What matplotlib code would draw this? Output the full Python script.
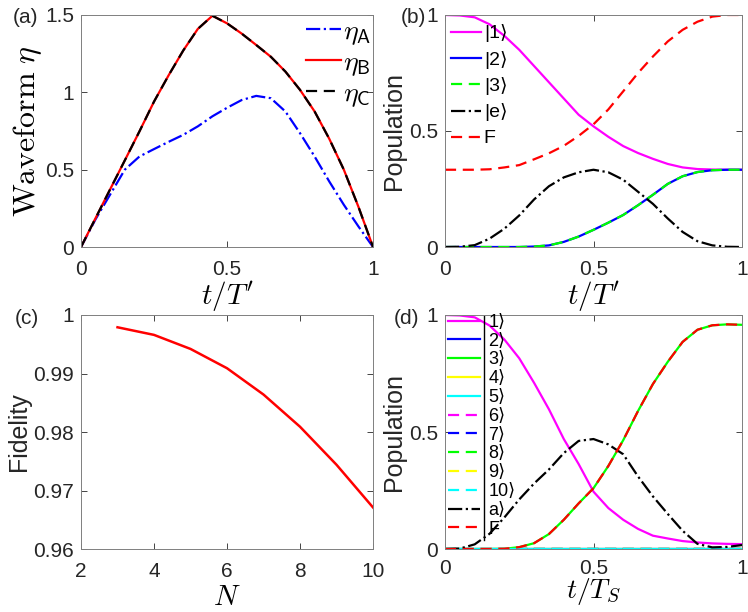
import numpy as np
import matplotlib
matplotlib.use("Agg")
import matplotlib.pyplot as plt
from matplotlib.ticker import FormatStrFormatter

plt.rcParams['font.family'] = ['Liberation Sans', 'DejaVu Sans']
plt.rcParams['mathtext.fontset'] = 'cm'

# ---- data ----
t = [0.0, 0.05, 0.1, 0.15, 0.2, 0.25, 0.3, 0.35, 0.4, 0.45, 0.5,
     0.55, 0.6, 0.65, 0.7, 0.75, 0.8, 0.85, 0.9, 0.95, 1.0]

# (a) waveforms
eta_A = [0.0, 0.18, 0.34, 0.50, 0.585, 0.633, 0.68, 0.725, 0.78, 0.845, 0.90,
         0.95, 0.977, 0.962, 0.876, 0.736, 0.585, 0.424, 0.273, 0.133, 0.0]
eta_B = [0.0, 0.187, 0.374, 0.56, 0.747, 0.94, 1.11, 1.27, 1.41, 1.495, 1.446,
         1.38, 1.306, 1.23, 1.134, 1.016, 0.876, 0.70, 0.50, 0.26, 0.0]
eta_C = eta_B

# (b) populations, N=3
pb_1 = [1.0, 0.998, 0.99, 0.96, 0.91, 0.85, 0.78, 0.71, 0.64, 0.57, 0.52,
        0.475, 0.435, 0.405, 0.38, 0.358, 0.343, 0.336, 0.334, 0.333, 0.333]
pb_2 = [0.0, 0.0, 0.0, 0.0, 0.0, 0.0, 0.002, 0.007, 0.022, 0.045, 0.074,
        0.105, 0.138, 0.18, 0.225, 0.272, 0.305, 0.323, 0.331, 0.333, 0.333]
pb_3 = pb_2
pb_e = [0.0, 0.001, 0.008, 0.036, 0.079, 0.136, 0.205, 0.262, 0.30, 0.322, 0.333,
        0.322, 0.29, 0.238, 0.186, 0.123, 0.065, 0.025, 0.007, 0.001, 0.0]
pb_F = [0.333, 0.333, 0.333, 0.335, 0.343, 0.353, 0.378, 0.404, 0.436, 0.479, 0.529,
        0.593, 0.671, 0.75, 0.821, 0.886, 0.936, 0.971, 0.993, 1.0, 1.0]

# (c) fidelity vs N
N = [3, 4, 5, 6, 7, 8, 9, 10]
fid = [0.9979, 0.9966, 0.9942, 0.9909, 0.9864, 0.9809, 0.9744, 0.9671]

# (d) populations, N=10
pd_1 = [1.0, 0.998, 0.99, 0.955, 0.895, 0.815, 0.71, 0.597, 0.47, 0.363, 0.245,
        0.175, 0.125, 0.086, 0.057, 0.045, 0.034, 0.028, 0.024, 0.022, 0.021]
pd_3 = [0.0, 0.0, 0.0, 0.0, 0.001, 0.008, 0.025, 0.064, 0.125, 0.195, 0.26,
        0.355, 0.465, 0.59, 0.705, 0.80, 0.885, 0.937, 0.956, 0.96, 0.958]
pd_zero = [0.0] * 21
pd_a = [0.0, 0.002, 0.02, 0.065, 0.135, 0.212, 0.28, 0.34, 0.41, 0.462, 0.47,
        0.447, 0.405, 0.31, 0.225, 0.15, 0.078, 0.022, 0.007, 0.009, 0.017]
pd_F = pd_3

kets_d = ['1', '2', '3', '4', '5', '6', '7', '8', '9', '10', 'a']
cols = ['#ff00ff', '#0000ff', '#00ff00', '#ffff00', '#00ffff']

TXT = '#262626'
LW = 1.6
DASH = (0, (5, 3))


def style(ax, xpad=9):
    ax.tick_params(direction='in', top=True, right=True, labelsize=15,
                   colors=TXT, length=4, width=0.6)
    ax.tick_params(axis='x', pad=xpad)
    ax.tick_params(axis='y', pad=5)
    for s in ax.spines.values():
        s.set_color('#7f7f7f')
        s.set_linewidth(0.7)


fig = plt.figure(figsize=(7.48, 6.12), dpi=100)

# ---- (a) ----
ax = fig.add_axes([0.1083, 0.5964, 0.3904, 0.3791])
ax.plot(t, eta_A, color='#0000ff', ls='-.', lw=LW, label=r'$\eta_{\mathsf{A}}$')
ax.plot(t, eta_B, color='#ff0000', ls='-', lw=LW, label=r'$\eta_{\mathsf{B}}$')
ax.plot(t, eta_C, color='k', ls=DASH, lw=LW, label=r'$\eta_{\mathsf{C}}$')
ax.set_xlim(0, 1)
ax.set_ylim(0, 1.5)
ax.set_xticks([0, 0.5, 1])
ax.set_yticks([0, 0.5, 1, 1.5])
ax.xaxis.set_major_formatter(FormatStrFormatter('%g'))
ax.yaxis.set_major_formatter(FormatStrFormatter('%g'))
style(ax)
ax.set_xlabel(r'$t/T^{\prime}$', fontsize=21, labelpad=0)
ax.set_ylabel(r'$\mathrm{Waveform}\ \eta$', fontsize=23, labelpad=1)
ax.legend(loc='upper right', frameon=False, fontsize=20, handlelength=1.25,
          handletextpad=0.1, labelspacing=0.12, borderaxespad=0.0,
          borderpad=0.05, bbox_to_anchor=(1.0, 0.99))

# ---- (b) ----
ax = fig.add_axes([0.5949, 0.5964, 0.3971, 0.3791])
ax.plot(t, pb_1, color='#ff00ff', ls='-', lw=LW, label='|1⟩')
ax.plot(t, pb_2, color='#0000ff', ls='-', lw=LW, label='|2⟩')
ax.plot(t, pb_3, color='#00ff00', ls=DASH, lw=LW, label='|3⟩')
ax.plot(t, pb_e, color='k', ls='-.', lw=LW, label='|e⟩')
ax.plot(t, pb_F, color='#ff0000', ls=DASH, lw=LW, label='F')
ax.set_xlim(0, 1)
ax.set_ylim(0, 1)
ax.set_xticks([0, 0.5, 1])
ax.set_yticks([0, 0.5, 1])
ax.xaxis.set_major_formatter(FormatStrFormatter('%g'))
ax.yaxis.set_major_formatter(FormatStrFormatter('%g'))
style(ax)
ax.set_xlabel(r'$t/T^{\prime}$', fontsize=21, labelpad=0)
ax.set_ylabel('Population', fontsize=18, color=TXT, labelpad=2)
ax.legend(loc='upper left', frameon=False, fontsize=14, handlelength=1.55,
          handletextpad=0.15, labelspacing=0.43, borderaxespad=0.0,
          borderpad=0.3, bbox_to_anchor=(0.0, 0.985))

# ---- (c) ----
ax = fig.add_axes([0.1083, 0.1029, 0.3904, 0.3824])
ax.plot(N, fid, color='#ff0000', lw=LW + 0.2)
ax.set_xlim(2, 10)
ax.set_ylim(0.96, 1.0)
ax.set_xticks([2, 4, 6, 8, 10])
ax.set_yticks([0.96, 0.97, 0.98, 0.99, 1.0])
ax.yaxis.set_major_formatter(FormatStrFormatter('%g'))
style(ax)
ax.set_xlabel(r'$N$', fontsize=21, labelpad=2)
ax.set_ylabel('Fidelity', fontsize=18, color=TXT, labelpad=2)

# ---- (d) ----
ax = fig.add_axes([0.5949, 0.1029, 0.3971, 0.3824])
for i, k in enumerate(kets_d[:10]):
    y = pd_1 if i == 0 else (pd_3 if i == 2 else pd_zero)
    ls = '-' if i < 5 else DASH
    ax.plot(t, y, color=cols[i % 5], ls=ls, lw=LW, label=k + '⟩')
ax.plot(t, pd_a, color='k', ls='-.', lw=LW, label='a⟩')
ax.plot(t, pd_F, color='#ff0000', ls=DASH, lw=LW, label='F')
ax.set_xlim(0, 1)
ax.set_ylim(0, 1)
ax.set_xticks([0, 0.5, 1])
ax.set_yticks([0, 0.5, 1])
ax.xaxis.set_major_formatter(FormatStrFormatter('%g'))
ax.yaxis.set_major_formatter(FormatStrFormatter('%g'))
style(ax, xpad=7)
ax.set_xlabel(r'$t/T_S$', fontsize=20, labelpad=-1)
ax.set_ylabel('Population', fontsize=18, color=TXT, labelpad=2)
ax.legend(loc='upper left', frameon=False, fontsize=13, handlelength=1.75,
          handletextpad=0.5, labelspacing=0.1, borderaxespad=0.0,
          borderpad=0.0, bbox_to_anchor=(0.01, 1.005))
# the tall ket bar drawn by the original legend
ax.axvline(0.133, ymin=0.04, ymax=1.0, color='k', lw=1.0)

for x, y, s in [(0.0174, 0.971, '(a)'), (0.536, 0.971, '(b)'),
                (0.020, 0.480, '(c)'), (0.526, 0.480, '(d)')]:
    fig.text(x, y, s, fontsize=15, color=TXT, ha='left', va='center')

fig.savefig('out.png', dpi=100)
